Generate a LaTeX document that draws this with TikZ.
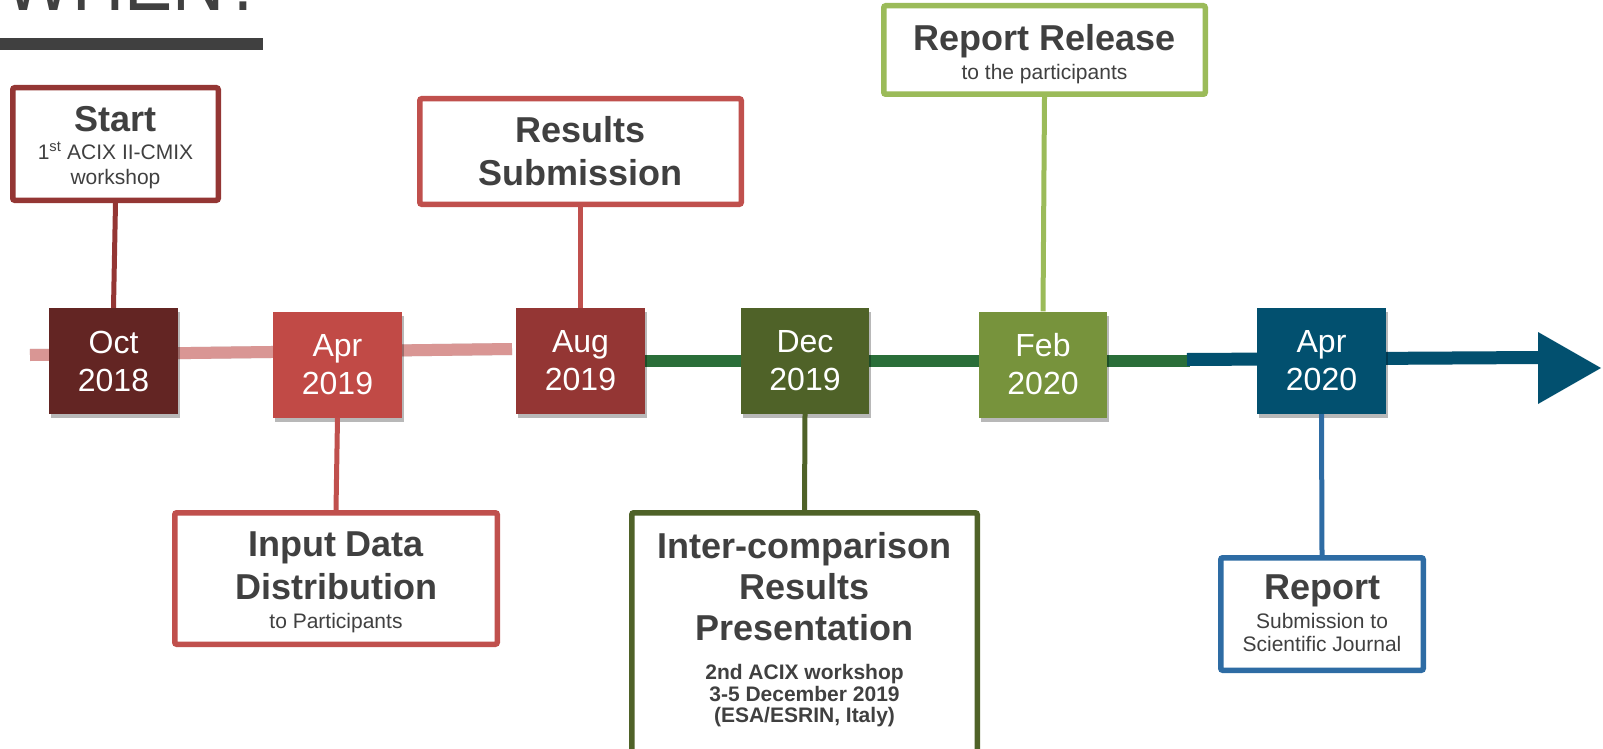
\documentclass[tikz,border=0pt]{standalone}
\usepackage{fontspec}
\setmainfont{Liberation Sans}
\usetikzlibrary{shadows,calc}

\definecolor{ink}{HTML}{404040}
\definecolor{maroon}{HTML}{632523}
\definecolor{brick}{HTML}{943634}
\definecolor{rust}{HTML}{C0504D}
\definecolor{aprred}{HTML}{C14A46}
\definecolor{olive}{HTML}{4F6228}
\definecolor{leaf}{HTML}{77933C}
\definecolor{lime}{HTML}{9BBB59}
\definecolor{petrol}{HTML}{02506F}
\definecolor{steel}{HTML}{2E6CA4}
\definecolor{rose}{HTML}{D99694}
\definecolor{forest}{HTML}{2A6E39}

\newcommand\evtitle{\fontsize{36}{42}\selectfont\bfseries}
\newcommand\evsub{\fontsize{21}{24}\selectfont\mdseries}
\newcommand\evsubb{\fontsize{21}{22}\selectfont\bfseries}

\begin{document}
\begin{tikzpicture}[x=1pt,y=-1pt,
  evbox/.style={draw=#1, line width=5.5, fill=white, rounded corners=2, inner sep=0},
  evtext/.style={anchor=north, inner sep=0, align=center, text=ink, font=\evtitle},
  datebox/.style={fill=#1, text=white, minimum width=129, minimum height=106,
    inner sep=0, align=center, font=\fontsize{32}{38}\selectfont,
    drop shadow={shadow xshift=2pt, shadow yshift=-4pt, opacity=.28, fill=black}},
  conn/.style={draw=#1, line width=5},
  track/.style={line width=12},
  trackshadow/.style={line width=12, draw=black, opacity=.18, shift={(2,5)}}
]
\useasboundingbox (0,0) rectangle (1603,749);
\clip (0,0) rectangle (1603,749);

% heading
\node[anchor=base west, inner sep=0, text=ink, font=\fontsize{88}{88}\selectfont] (heading) at (4,11) {\scalebox{0.82}[1]{WHEN?}};
\fill[ink] (0,38) rectangle (263,50);

% timeline track
\coordinate (p0) at (30,355);
\coordinate (p1) at (512,349);
\coordinate (g0) at (640,361);
\coordinate (g1) at (1190,361);
\coordinate (b0) at (1187,359.5);
\coordinate (b1) at (1540,357.5);
\coordinate (tipA) at (1538,332);
\coordinate (tipB) at (1601,368);
\coordinate (tipC) at (1538,404);

\draw[trackshadow] (p0) -- (p1);
\draw[trackshadow] (g0) -- (g1);
\draw[trackshadow] (b0) -- (b1);
\draw[track, rose] (p0) -- (p1);
\draw[track, forest] (g0) -- (g1);
\draw[line width=13, petrol] (b0) -- (b1);
\fill[petrol] (tipA) -- (tipB) -- (tipC) -- cycle;

% dates
\node[datebox=maroon] (oct) at (113.5,361) {Oct\\2018};
\node[datebox=aprred] (apr) at (337.5,364.5) {Apr\\2019};
\node[datebox=brick] (aug) at (580.5,361) {Aug\\2019};
\node[datebox=olive, minimum width=128] (dec) at (805,361) {Dec\\2019};
\node[datebox=leaf, minimum width=128] (feb) at (1043,364.5) {Feb\\2020};
\node[datebox=petrol] (apr2) at (1321.5,361) {Apr\\2020};

% event frames
\node[evbox=brick, minimum width=205.5, minimum height=112.5] (start) at (115.5,144) {};
\node[evbox=rust, minimum width=321.5, minimum height=105.5] (results) at (580.5,151.5) {};
\node[evbox=lime, minimum width=321.5, minimum height=88.5] (release) at (1044.5,50) {};
\node[evbox=rust, minimum width=322.5, minimum height=131.5] (input) at (336,578.5) {};
\node[evbox=olive, minimum width=345.5, minimum height=300, anchor=north] (inter) at (804.5,510) {};
\node[evbox=steel, minimum width=202.5, minimum height=112.5] (report) at (1322,614) {};

% event texts
\node[evtext] (starttext) at ($(start.north)+(0,21)$)
  {\evtitle Start\\[-14pt]\evsub 1\textsuperscript{st} ACIX II-CMIX\\[-17pt]\evsub workshop};
\node[evtext] (resultstext) at ($(results.north)+(0,20.25)$)
  {\evtitle Results\\[1pt]\evtitle Submission};
\node[evtext] (releasetext) at ($(release.north)+(0,21.25)$)
  {\evtitle Report Release\\[-13pt]\evsub to the participants};
\node[evtext] (inputtext) at ($(input.north)+(0,21.5)$)
  {\evtitle Input Data\\[1pt]\evtitle Distribution\\[-13pt]\evsub to Participants};
\node[evtext] (intertext) at ($(inter.north)+(0,22)$)
  {\evtitle Inter-comparison\\[-1pt]\evtitle Results\\[-1pt]\evtitle Presentation\\[-3pt]
   \evsubb 2nd ACIX workshop\\[-20pt]
   \evsubb 3-5 December 2019\\[-21pt]
   \evsubb (ESA/ESRIN, Italy)};
\node[evtext] (reporttext) at ($(report.north)+(0,20)$)
  {\evtitle Report\\[-13pt]\evsub Submission to\\[-19pt]\evsub Scientific Journal};

% leaders from events to dates
\draw[conn=brick] (start.south) -- (oct.north);
\draw[conn=rust] (results.south) -- (aug.north);
\draw[conn=lime] (release.south) -- (feb.north);
\draw[conn=rust] (apr.south) -- (input.north);
\draw[conn=olive] (dec.south) -- (inter.north);
\draw[conn=steel] (apr2.south) -- (report.north);
\end{tikzpicture}
\end{document}
